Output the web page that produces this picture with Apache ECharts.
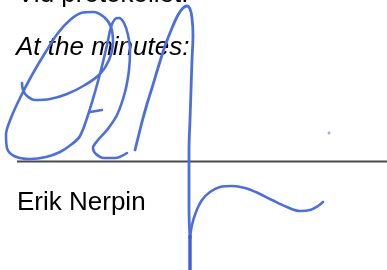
<!DOCTYPE html>
<html>
<head>
<meta charset="utf-8">
<script src="https://cdn.jsdelivr.net/npm/echarts@6/dist/echarts.min.js"></script>
<style>
html,body{margin:0;padding:0;background:#fff;}
#c{width:387px;height:270px;}
</style>
</head>
<body>
<div id="c"></div>
<script>
// Document text lines
var headerText = "Vid protokollet:";
var captionText = "At the minutes:";
var nameText = "Erik Nerpin";

// Signature strokes as [x, y] points in page units (y downward)
var strokeLoop = [
  [22,83],[23,90],[27,96],[35,100],[50,99],[67,94],[85,85],[100,74],[109,60],[113,42],[111,27],[104,17],[93,12],[81,13],[70,20],[58,33],[45,53],[32,75],[20,98],[11,118],[6,135],[7,148],[14,156],[30,159],[46,157],[60,152],[72,144],[80,136],[88,115],[95,92],[101,70],[107,45],[111,27],[115,19],[119,18],[124,23],[128,35],[130,50],[129,70],[125,92],[117,115],[107,130],[98,140],[93,148],[96,154],[104,158],[115,158],[127,153]
];
var strokeCross = [[90,112],[102,110]];
var strokeTall = [
  [135,150],[138,138],[142,122],[147,104],[152,88],[158,68],[165,46],[172,28],[178,15],[183,8],[187,6],[190,9],[192,18],[193,35],[192,60],[191,90],[190,120],[189,150],[189,180],[189,210],[190,238]
];
var strokeTail = [
  [190,238],[192,225],[196,212],[202,200],[210,192],[220,187],[232,186],[245,188],[258,193],[272,200],[287,207],[300,211],[310,210],[318,206],[323,202]
];
var strokeStem = [[190,236],[190,270]];
var ruleLine = [[17,161.5],[387,161.5]];
var specks = [[329,133]];

var chart = echarts.init(document.getElementById('c'));
var ink = '#4c6fe0';
function stroke(data, w, c) {
  return {
    type: 'line', data: data, smooth: 0.35, showSymbol: false, silent: true,
    clip: false,
    lineStyle: { color: c || ink, width: w, cap: 'round', join: 'round' }
  };
}
var font = '"Liberation Sans", Arial, sans-serif';
chart.setOption({
  animation: false,
  backgroundColor: '#ffffff',
  grid: { left: 0, right: 0, top: 0, bottom: 0 },
  xAxis: { type: 'value', min: 0, max: 387, show: false },
  yAxis: { type: 'value', min: 0, max: 270, inverse: true, show: false },
  graphic: [
    { type: 'text', left: 17, top: -18, z: 1,
      style: { text: headerText, font: '26px ' + font, fill: '#000' } },
    { type: 'text', left: 16, top: 35, z: 1,
      style: { text: captionText, font: 'italic 26px ' + font, fill: '#000' } },
    { type: 'text', left: 17, top: 190, z: 1,
      style: { text: nameText, font: '26px ' + font, fill: '#000' } }
  ],
  series: [
    { type: 'line', data: ruleLine, showSymbol: false, silent: true, z: 1,
      lineStyle: { color: '#4a4a4a', width: 2 } },
    Object.assign(stroke(strokeLoop, 2.6), { z: 3 }),
    Object.assign(stroke(strokeCross, 2.4), { z: 3, smooth: false }),
    Object.assign(stroke(strokeTall, 2.8), { z: 3 }),
    Object.assign(stroke(strokeTail, 2.6), { z: 3 }),
    Object.assign(stroke(strokeStem, 3.4, '#3a5fe0'), { z: 3, smooth: false }),
    { type: 'scatter', data: specks, symbolSize: 3, silent: true,
      itemStyle: { color: '#8a9ac8' } }
  ]
});
</script>
</body>
</html>
